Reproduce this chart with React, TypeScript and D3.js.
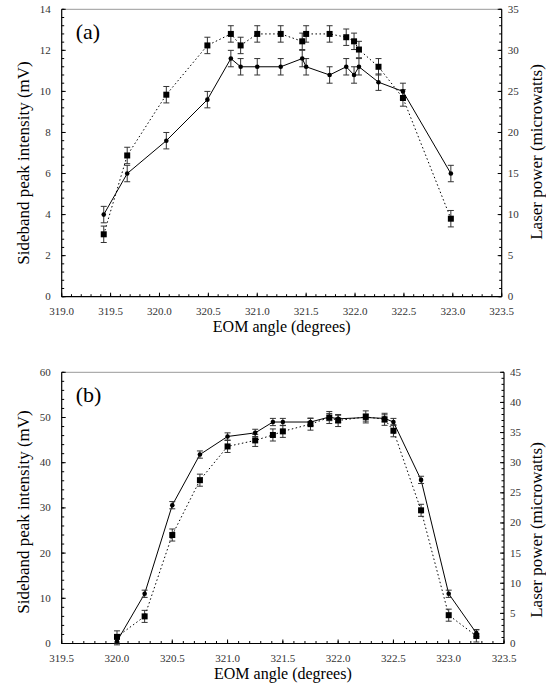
import React from 'react';
import * as d3 from 'd3';

// panel (a): EOM angle vs sideband intensity (mV, left) and laser power (uW, right)
const angleA = [319.43, 319.67, 320.07, 320.49, 320.73, 320.83, 321.0, 321.24, 321.46, 321.5, 321.74, 321.91, 321.99, 322.04, 322.24, 322.49, 322.98];
const sidebandA = [4.0, 6.0, 7.6, 9.6, 11.6, 11.2, 11.2, 11.2, 11.6, 11.2, 10.8, 11.2, 10.8, 11.2, 10.45, 10.0, 6.0];
const laserA = [7.6, 17.2, 24.6, 30.6, 32.0, 30.6, 32.0, 32.0, 31.1, 32.0, 32.0, 31.6, 31.1, 30.1, 28.0, 24.2, 9.5];

// panel (b)
const angleB = [320.0, 320.25, 320.5, 320.75, 321.0, 321.25, 321.41, 321.5, 321.75, 321.92, 322.0, 322.25, 322.42, 322.5, 322.75, 323.0, 323.25];
const sidebandB = [0.5, 11.0, 30.6, 41.8, 45.8, 46.6, 49.0, 49.0, 49.0, 50.1, 49.7, 50.0, 49.8, 49.0, 36.2, 11.0, 2.3];
const laserB = [1.1, 4.5, 18.0, 27.1, 32.7, 33.7, 34.6, 35.2, 36.4, 37.5, 37.0, 37.6, 37.2, 35.3, 22.1, 4.7, 1.25];

const xLabel = 'EOM angle (degrees)';
const leftLabel = 'Sideband peak intensity (mV)';
const rightLabel = 'Laser power (microwatts)';

const FONT = "'Liberation Serif', 'Times New Roman', Times, 'DejaVu Serif', serif";
const txt = { fontFamily: FONT };

// evenly spaced values without float drift
const steps = (lo, hi, step) => d3.range(0, Math.round((hi - lo) / step) + 1).map(i => lo + i * step);

function Panel({ tag, angles, sideband, laser, xDomain, leftMax, leftStep, rightMax, x0, x1, top, bottom, sbErr, lpErr, leftTitleY, rightTitleY }) {
  const x = d3.scaleLinear().domain(xDomain).range([x0, x1]);
  const yL = d3.scaleLinear().domain([0, leftMax]).range([bottom, top]);
  const yR = d3.scaleLinear().domain([0, rightMax]).range([bottom, top]);

  const xMajor = steps(xDomain[0], xDomain[1], 0.5);
  const xMinor = steps(xDomain[0], xDomain[1], 0.1);
  const lMajor = steps(0, leftMax, leftStep);
  const lMinor = steps(0, leftMax, leftStep / 5);
  const rMajor = steps(0, rightMax, 5);
  const rMinor = steps(0, rightMax, 1);

  const sbPts = angles.map((a, i) => [x(a), yL(sideband[i])]);
  const lpPts = angles.map((a, i) => [x(a), yR(laser[i])]);
  const line = d3.line();
  const cap = 3;

  return (
    <g>
      {/* frame */}
      <line x1={x0} x2={x1} y1={top} y2={top} stroke="#999" strokeWidth={1} />
      <line x1={x0} x2={x1} y1={bottom} y2={bottom} stroke="#000" strokeWidth={1.2} />
      <line x1={x0} x2={x0} y1={top} y2={bottom} stroke="#000" strokeWidth={1.2} />
      <line x1={x1} x2={x1} y1={top} y2={bottom} stroke="#000" strokeWidth={1.2} />

      {/* x ticks */}
      {xMinor.map((v, i) => (
        <line key={'xm' + i} x1={x(v)} x2={x(v)} y1={bottom} y2={bottom - 2.5} stroke="#000" />
      ))}
      {xMajor.map((v, i) => (
        <g key={'xM' + i}>
          <line x1={x(v)} x2={x(v)} y1={bottom} y2={bottom - 4} stroke="#000" />
          <text x={x(v)} y={bottom + 18.5} textAnchor="middle" fontSize={11} fill="#333" style={txt}>
            {d3.format('.1f')(v)}
          </text>
        </g>
      ))}

      {/* left ticks */}
      {lMinor.map((v, i) => (
        <line key={'lm' + i} x1={x0} x2={x0 + 2.5} y1={yL(v)} y2={yL(v)} stroke="#000" />
      ))}
      {lMajor.map((v, i) => (
        <g key={'lM' + i}>
          <line x1={x0} x2={x0 + 4} y1={yL(v)} y2={yL(v)} stroke="#000" />
          <text x={x0 - 11} y={yL(v) + 3.5} textAnchor="end" fontSize={11} fill="#333" style={txt}>{v}</text>
        </g>
      ))}

      {/* right ticks */}
      {rMinor.map((v, i) => (
        <line key={'rm' + i} x1={x1} x2={x1 - 2.5} y1={yR(v)} y2={yR(v)} stroke="#000" />
      ))}
      {rMajor.map((v, i) => (
        <g key={'rM' + i}>
          <line x1={x1} x2={x1 - 4} y1={yR(v)} y2={yR(v)} stroke="#000" />
          <text x={x1 + 6} y={yR(v) + 3.5} textAnchor="start" fontSize={11} fill="#333" style={txt}>{v}</text>
        </g>
      ))}

      {/* series lines */}
      <path d={line(lpPts)} fill="none" stroke="#000" strokeWidth={1} strokeDasharray="1.5 2.5" />
      <path d={line(sbPts)} fill="none" stroke="#000" strokeWidth={1} />

      {/* error bars */}
      {angles.map((a, i) => {
        const cx = x(a);
        const lo = yR(laser[i] - lpErr), hi = yR(laser[i] + lpErr);
        return (
          <g key={'el' + i} stroke="#333" strokeWidth={1}>
            <line x1={cx} x2={cx} y1={lo} y2={hi} />
            <line x1={cx - cap} x2={cx + cap} y1={lo} y2={lo} />
            <line x1={cx - cap} x2={cx + cap} y1={hi} y2={hi} />
          </g>
        );
      })}
      {angles.map((a, i) => {
        const cx = x(a);
        const lo = yL(sideband[i] - sbErr), hi = yL(sideband[i] + sbErr);
        return (
          <g key={'es' + i} stroke="#333" strokeWidth={1}>
            <line x1={cx} x2={cx} y1={lo} y2={hi} />
            <line x1={cx - cap} x2={cx + cap} y1={lo} y2={lo} />
            <line x1={cx - cap} x2={cx + cap} y1={hi} y2={hi} />
          </g>
        );
      })}

      {/* markers */}
      {lpPts.map(([px, py], i) => (
        <rect key={'sq' + i} x={px - 3} y={py - 3} width={6} height={6} fill="#000" />
      ))}
      {sbPts.map(([px, py], i) => (
        <circle key={'ci' + i} cx={px} cy={py} r={2.3} fill="#000" />
      ))}

      {/* labels */}
      <text x={x0 + 14} y={top + 30} fontSize={22} style={txt} fill="#000">{tag}</text>
      <text x={(x0 + x1) / 2} y={bottom + 35} textAnchor="middle" fontSize={16} style={txt} fill="#000">{xLabel}</text>
      <text transform={`translate(29,${leftTitleY}) rotate(-90)`} textAnchor="middle" fontSize={17} style={txt} fill="#000">{leftLabel}</text>
      <text transform={`translate(542,${rightTitleY}) rotate(-90)`} textAnchor="middle" fontSize={17} style={txt} fill="#000">{rightLabel}</text>
    </g>
  );
}

export default function App() {
  return (
    <svg width={546} height={692} style={{ position: 'absolute', left: 0, top: 0, background: '#fff', fontFamily: FONT }}>
      <rect width={546} height={692} fill="#fff" />
      <Panel
        tag="(a)"
        angles={angleA}
        sideband={sidebandA}
        laser={laserA}
        xDomain={[319.0, 323.5]}
        leftMax={14}
        leftStep={2}
        rightMax={35}
        x0={61.7}
        x1={501.7}
        top={9.3}
        bottom={296.7}
        sbErr={0.4}
        lpErr={1.0}
        leftTitleY={163}
        rightTitleY={152}
      />
      <Panel
        tag="(b)"
        angles={angleB}
        sideband={sidebandB}
        laser={laserB}
        xDomain={[319.5, 323.5]}
        leftMax={60}
        leftStep={10}
        rightMax={45}
        x0={61.7}
        x1={504}
        top={372.3}
        bottom={643.5}
        sbErr={0.8}
        lpErr={1.0}
        leftTitleY={512}
        rightTitleY={530}
      />
    </svg>
  );
}
